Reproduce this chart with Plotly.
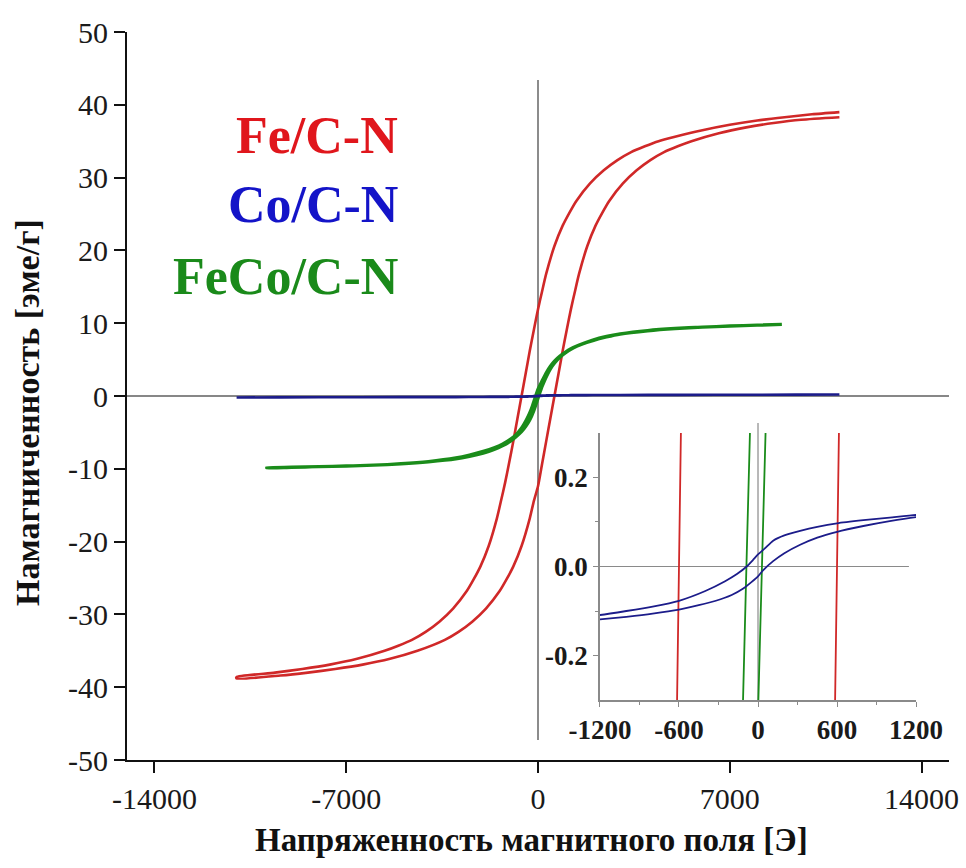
import plotly.graph_objects as go

# Fe/C-N hysteresis loop: descending branch (+H -> -H) and ascending branch (-H -> +H)
fe_desc_h = [11000, 10000, 9000, 8000, 7000, 6000, 5000, 4400, 3900, 3400, 2900, 2400, 1900,
             1400, 1150, 900, 600, 300, 150, 0, -150, -300, -450, -600, -750, -900, -1050,
             -1200, -1350, -1500, -1800, -2100, -2350, -2600, -3100, -3600, -4100, -4600,
             -5100, -5600, -6600, -7600, -8600, -9600, -11000]
fe_desc_m = [39.0, 38.7, 38.3, 37.85, 37.25, 36.5, 35.6, 35.0, 34.3, 33.5, 32.4, 31.0, 29.2,
             26.8, 25.2, 23.4, 20.6, 16.8, 14.4, 11.9, 9.1, 6.2, 3.1, 0.0, -3.1, -6.2, -9.1,
             -11.9, -14.4, -16.8, -20.6, -23.4, -25.2, -26.8, -29.2, -31.0, -32.4, -33.5,
             -34.3, -35.0, -36.1, -36.9, -37.5, -38.0, -38.6]
fe_asc_h = [-11000, -9400, -8400, -7400, -6400, -5400, -4400, -3400, -2900, -2400, -1900,
            -1400, -1150, -900, -600, -300, -150, 0, 150, 300, 450, 600, 750, 900, 1050,
            1200, 1350, 1500, 1800, 2100, 2350, 2600, 3100, 3600, 4100, 4600, 5100, 5600,
            6600, 7600, 8600, 9600, 11000]
fe_asc_m = [-38.8, -38.4, -38.0, -37.5, -36.9, -36.1, -35.0, -33.5, -32.4, -31.0, -29.2,
            -26.8, -25.2, -23.4, -20.6, -16.8, -14.4, -12.4, -9.3, -6.2, -3.1, 0.0, 3.1,
            6.2, 9.1, 11.9, 14.4, 16.8, 20.6, 23.4, 25.2, 26.8, 29.2, 31.0, 32.4, 33.5,
            34.3, 35.0, 36.1, 36.9, 37.5, 37.95, 38.3]

# Co/C-N loop (very weak signal)
co_desc_h = [11000, 8000, 5000, 3000, 2000, 1500, 1200, 1000, 800, 600, 450, 320, 200, 115,
             50, 0, -40, -86, -160, -250, -400, -600, -800, -1000, -1200, -1500, -2000,
             -3000, -5000, -8000, -11000]
co_desc_m = [0.20, 0.18, 0.16, 0.145, 0.13, 0.122, 0.116, 0.110, 0.104, 0.097, 0.089, 0.080,
             0.070, 0.058, 0.040, 0.027, 0.014, 0.0, -0.017, -0.033, -0.055, -0.077, -0.090,
             -0.100, -0.109, -0.118, -0.128, -0.142, -0.16, -0.18, -0.20]
co_asc_h = [-11000, -8000, -5000, -3000, -2000, -1500, -1200, -1000, -800, -600, -450, -320,
            -200, -115, -50, 0, 40, 115, 200, 320, 450, 600, 800, 1000, 1200, 1500, 2000,
            3000, 5000, 8000, 11000]
co_asc_m = [-0.20, -0.18, -0.163, -0.148, -0.135, -0.126, -0.119, -0.113, -0.106, -0.097,
            -0.087, -0.077, -0.064, -0.050, -0.035, -0.022, -0.008, 0.012, 0.030, 0.049,
            0.065, 0.078, 0.091, 0.102, 0.111, 0.12, 0.13, 0.145, 0.16, 0.18, 0.20]

# FeCo/C-N loop
feco_desc_h = [8900, 8000, 7000, 6000, 5000, 4000, 3000, 2500, 2000, 1500, 1200, 1000, 800,
               600, 450, 300, 150, 0, -88, -200, -300, -400, -500, -600, -800, -1000, -1300,
               -1600, -2000, -2500, -3000, -4000, -5000, -6000, -7000, -8000, -9000, -9900]
feco_desc_m = [9.85, 9.75, 9.62, 9.47, 9.28, 9.0, 8.55, 8.2, 7.7, 7.0, 6.5, 6.05, 5.5, 4.8,
               4.1, 3.2, 2.1, 0.95, 0.0, -1.3, -2.3, -3.1, -3.8, -4.4, -5.3, -5.9, -6.6,
               -7.1, -7.6, -8.1, -8.5, -9.0, -9.3, -9.5, -9.6, -9.7, -9.78, -9.85]
feco_asc_h = [-9900, -9000, -8000, -7000, -6000, -5000, -4000, -3000, -2500, -2000, -1600,
              -1300, -1000, -800, -600, -450, -300, -150, 0, 30, 150, 250, 350, 450, 600,
              800, 1000, 1300, 1600, 2000, 2500, 3000, 4000, 5000, 6000, 7000, 8000, 8900]
feco_asc_m = [-9.88, -9.8, -9.72, -9.62, -9.5, -9.32, -9.05, -8.65, -8.3, -7.85, -7.35, -6.85,
              -6.2, -5.6, -4.9, -4.2, -3.3, -2.0, -0.33, 0.0, 1.3, 2.2, 3.0, 3.7, 4.5,
              5.3, 5.9, 6.6, 7.1, 7.6, 8.1, 8.5, 8.95, 9.25, 9.45, 9.6, 9.72, 9.82]

main_xticks = [-14000, -7000, 0, 7000, 14000]
main_yticks = [50, 40, 30, 20, 10, 0, -10, -20, -30, -40, -50]
inset_xticks = [-1200, -600, 0, 600, 1200]
inset_yticks = [0.2, 0.0, -0.2]

labels = ["Fe/C-N", "Co/C-N", "FeCo/C-N"]

RED, GREEN, BLUE = "#d02828", "#1a8c1a", "#1c1c8a"
TXT_RED, TXT_BLUE, TXT_GREEN = "#e0161c", "#1414c8", "#1a8a1a"
SERIF = "Liberation Serif"


def hyph(v, fmt="{:g}"):
    return fmt.format(v).replace("\u2212", "-")


fig = go.Figure()

series = [
    (fe_desc_h + fe_asc_h, fe_desc_m + fe_asc_m, RED, 2.6),
    (feco_desc_h + feco_asc_h, feco_desc_m + feco_asc_m, GREEN, 3.2),
    (co_desc_h + co_asc_h, co_desc_m + co_asc_m, BLUE, 2.6),
]
# main panel
for hx, my, col, w in series:
    fig.add_trace(go.Scatter(x=hx, y=my, mode="lines",
                             line=dict(color=col, width=w, shape="spline", smoothing=0.6),
                             showlegend=False, hoverinfo="skip", xaxis="x", yaxis="y"))
# inset panel
for hx, my, col, w in series:
    fig.add_trace(go.Scatter(x=hx, y=my, mode="lines",
                             line=dict(color=col, width=1.8, shape="spline", smoothing=0.6),
                             showlegend=False, hoverinfo="skip", xaxis="x2", yaxis="y2"))

axis_font = dict(family=SERIF, size=30, color="#1a1a1a")
inset_font = dict(family=SERIF, size=27, color="#1a1a1a", weight="bold")

fig.update_layout(
    width=966, height=868,
    margin=dict(l=127, r=17, t=32, b=108, autoexpand=False),
    paper_bgcolor="white", plot_bgcolor="rgba(0,0,0,0)",
    xaxis=dict(range=[-15000, 15000], domain=[0, 1], showline=True, linecolor="#111",
               linewidth=2, ticks="outside", ticklen=11, tickwidth=2, tickcolor="#111",
               tickvals=main_xticks, ticktext=[hyph(v) for v in main_xticks],
               tickfont=axis_font, showgrid=False, zeroline=False, anchor="y",
               automargin=False),
    yaxis=dict(range=[-50, 50], domain=[0, 1], showline=True, linecolor="#111",
               linewidth=2, ticks="outside", ticklen=11, tickwidth=2, tickcolor="#111",
               tickvals=main_yticks, ticktext=[hyph(v) for v in main_yticks],
               tickfont=axis_font, showgrid=False, zeroline=False, anchor="x",
               automargin=False),
    xaxis2=dict(range=[-1200, 1200], domain=[0.5754, 0.9599], anchor="y2",
                showline=True, linecolor="#8a8a8a", linewidth=1.5, ticks="outside",
                ticklen=5, tickcolor="#8a8a8a", tickvals=inset_xticks,
                ticktext=[hyph(v) for v in inset_xticks], tickfont=inset_font,
                minor=dict(tickvals=[-900, -300, 300, 900], ticklen=3, ticks="outside",
                           tickcolor="#8a8a8a"),
                showgrid=False, zeroline=False, automargin=False),
    yaxis2=dict(range=[-0.3, 0.3], domain=[0.0824, 0.4492], anchor="x2",
                showline=True, linecolor="#8a8a8a", linewidth=1.5, ticks="outside",
                ticklen=5, tickcolor="#8a8a8a", tickvals=inset_yticks,
                ticktext=[hyph(v, "{:.1f}") for v in inset_yticks], tickfont=inset_font,
                minor=dict(tickvals=[-0.1, 0.1], ticklen=3, ticks="outside",
                           tickcolor="#8a8a8a"),
                showgrid=False, zeroline=False, automargin=False),
)

# reference lines through the origin
fig.add_shape(type="line", xref="paper", yref="y", x0=0, x1=1, y0=0, y1=0,
              line=dict(color="#111", width=1.2), layer="below")
fig.add_shape(type="line", xref="x", yref="paper", x0=0, x1=0, y0=0.0275, y1=0.934,
              line=dict(color="#666", width=1.5), layer="below")
fig.add_shape(type="line", xref="x2", yref="y2", x0=-1200, x1=1146, y0=0, y1=0,
              line=dict(color="#8a8a8a", width=1.2), layer="below")
fig.add_shape(type="line", xref="x2", yref="paper", x0=0, x1=0, y0=0.0824, y1=0.4629,
              line=dict(color="#8a8a8a", width=1.2), layer="below")

# series labels
for txt, col, yy in zip(labels, [TXT_RED, TXT_BLUE, TXT_GREEN], [0.8585, 0.7624, 0.6635]):
    fig.add_annotation(text=txt, xref="paper", yref="paper", x=0.3321, y=yy,
                       xanchor="right", yanchor="middle", showarrow=False,
                       font=dict(family=SERIF, size=52, color=col, weight="bold"))

# axis titles
fig.add_annotation(text="Напряженность магнитного поля [Э]", xref="paper", yref="paper",
                   x=0.492, y=-0.1099, xanchor="center", yanchor="middle", showarrow=False,
                   font=dict(family=SERIF, size=33, color="#111", weight="bold"))
fig.add_annotation(text="Намагниченность [эме/г]", xref="paper", yref="paper",
                   x=-0.1217, y=0.478, xanchor="center", yanchor="middle", showarrow=False,
                   textangle=-90,
                   font=dict(family=SERIF, size=34, color="#111", weight="bold"))

fig.write_html("out.html")
